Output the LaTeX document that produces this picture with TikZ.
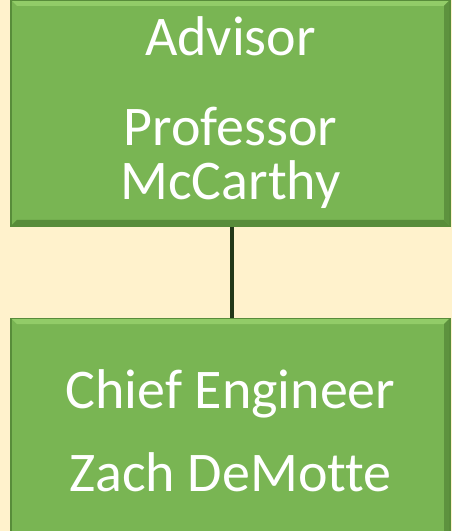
\documentclass[tikz,border=0pt]{standalone}
\usepackage{fontspec}
\setmainfont{Carlito}[Ligatures = NoCommon]
\usetikzlibrary{positioning}
\definecolor{cream}{HTML}{FFF2CC}
\definecolor{boxgreen}{RGB}{121,181,83}
\definecolor{lightgreen}{RGB}{146,204,104}
\definecolor{edgegreen}{RGB}{88,140,58}
\definecolor{linkgreen}{RGB}{34,56,24}
\tikzset{orgbox/.style = {rectangle, fill = boxgreen, draw = edgegreen, line width = 1.2pt,
    minimum width = 439pt, minimum height = 226pt, inner sep = 0pt,
    text = white, align = center, font = \fontsize{56}{54}\selectfont,
    path picture = {
      \fill [lightgreen] (path picture bounding box.north west) -- ++(6,-6) -- ([xshift=-6pt,yshift=-6pt]path picture bounding box.north east) -- (path picture bounding box.north east) -- cycle;
      \fill [edgegreen] (path picture bounding box.south west) -- ++(6,6) -- ([xshift=-6pt,yshift=6pt]path picture bounding box.south east) -- (path picture bounding box.south east) -- cycle;
      \fill [edgegreen!85!boxgreen] (path picture bounding box.north east) -- ++(-6,-6) -- ([xshift=-6pt,yshift=6pt]path picture bounding box.south east) -- (path picture bounding box.south east) -- cycle;}}}

\begin{document}
\begin{tikzpicture}[x = 1pt, y = 1pt]
\fill [cream] (0,0) rectangle (452,531);
\useasboundingbox (0,0) rectangle (452,531);
\clip (0,0) rectangle (452,531);
\node [orgbox] (advisor) at (230.5,418) {Advisor\\[36pt]Professor\\McCarthy};
\node [orgbox, below = 91pt of advisor] (engineer) {Chief Engineer\\[29pt]Zach DeMotte};
\draw [linkgreen, line width = 3.2pt] (advisor.south -| 232,0) -- (engineer.north -| 232,0);
\end{tikzpicture}
\end{document}
